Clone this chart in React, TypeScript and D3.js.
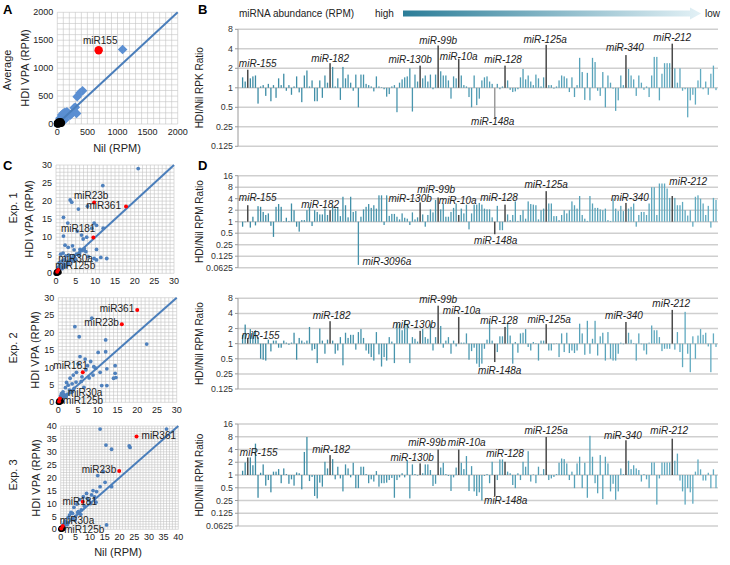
import React from 'react';
import * as d3 from 'd3';

const FONT = '"Liberation Sans", Arial, sans-serif';

// ---------------- bar panels (B, D) ----------------
const N = 185;
const barNames = ['miR-155', 'miR-182', 'miR-130b', 'miR-99b', 'miR-10a', 'miR-148a', 'miR-128', 'miR-125a', 'miR-340', 'miR-212'];
const barIdx = [2, 34, 69, 76, 84, 98, 102, 118, 149, 167];

const ratioB = [
  1.45, 1.25, 1.9, 1.4, 1.5, 1.55, 0.57, 1.05, 1.1, 0.75,
  1.15, 0.62, 1.1, 0.7, 1.4, 1.1, 1.65, 0.9, 1.1, 0.78,
  1.05, 1.5, 0.85, 0.6, 1.55, 1.85, 1.05, 1.3, 0.62, 0.62,
  1.3, 0.7, 1.55, 1.2, 2.4, 2.1, 1.05, 1.4, 0.65, 2.1,
  1.4, 1.6, 1.2, 0.9, 1.6, 0.5, 1.6, 1.6, 1.15, 1.1,
  1.05, 0.88, 1.5, 1.05, 1.02, 0.95, 0.73, 0.8, 1.05, 1.1,
  0.42, 1.2, 1.35, 1.45, 1.5, 2.0, 0.43, 1.6, 1.25, 2.2,
  1.4, 1.55, 1.25, 1.6, 0.95, 1.6, 4.5, 1.8, 1.55, 1.55,
  1.3, 0.68, 1.5, 1.4, 2.8, 1.55, 1.1, 1.05, 0.72, 0.5,
  1.55, 0.54, 0.68, 1.3, 1.45, 1.5, 1.25, 1.15, 0.33, 1.15,
  0.95, 1.05, 2.2, 1.3, 0.93, 0.86, 0.88, 0.95, 1.45, 1.95,
  1.35, 1.55, 1.25, 1.1, 1.6, 1.4, 1.05, 1.45, 4.6, 1.1,
  1.1, 0.97, 1.05, 1.3, 1.55, 1.5, 1.4, 0.86, 1.45, 0.72,
  1.1, 2.9, 1.75, 0.65, 1.7, 0.64, 2.9, 2.5, 0.9, 0.75,
  1.75, 0.5, 1.55, 1.2, 0.97, 0.44, 0.64, 1.55, 1.1, 3.2,
  1.95, 1.55, 1.35, 0.75, 1.55, 1.2, 0.93, 1.05, 0.72, 1.55,
  3.0, 3.0, 0.64, 1.65, 2.4, 2.4, 2.4, 4.8, 2.0, 1.2,
  2.0, 0.9, 0.95, 0.35, 0.64, 0.78, 0.55, 1.3, 1.95, 0.95,
  1.25, 0.78, 1.65, 2.2, 0.92,
];

const ratioD1 = [
  0.74, 0.97, 2.7, 0.7, 1.35, 0.8, 2.55, 2.45, 1.8, 1.5,
  1.65, 0.78, 0.4, 2.45, 2.9, 2.45, 1.03, 1.27, 1.05, 3.0,
  2.0, 0.74, 0.55, 1.1, 1.1, 2.0, 2.4, 0.77, 2.0, 1.8,
  1.55, 1.55, 2.2, 1.5, 2.0, 2.7, 2.2, 2.4, 1.4, 4.5,
  2.7, 1.3, 4.5, 1.8, 1.9, 0.074, 1.35, 2.1, 2.45, 2.9,
  2.3, 2.7, 2.2, 4.9, 4.9, 0.82, 4.9, 1.42, 1.6, 1.6,
  1.35, 1.15, 1.65, 1.27, 1.2, 0.82, 1.75, 1.15, 1.3, 3.2,
  1.55, 0.74, 1.5, 2.1, 1.75, 3.7, 4.3, 2.1, 3.0, 1.35,
  1.35, 1.8, 2.3, 3.0, 1.5, 2.2, 1.65, 2.8, 0.63, 1.65,
  2.8, 2.8, 3.1, 2.8, 2.2, 2.1, 2.1, 1.3, 0.47, 2.6,
  0.6, 0.6, 2.8, 1.55, 1.1, 1.5, 3.4, 1.05, 1.5, 2.0,
  1.2, 3.4, 2.9, 2.8, 2.7, 1.15, 2.0, 2.2, 6.3, 3.0,
  3.0, 1.4, 1.4, 1.1, 1.5, 2.0, 1.65, 2.0, 3.4, 2.7,
  2.2, 4.7, 1.5, 1.2, 1.05, 4.7, 3.0, 2.3, 2.3, 2.1,
  2.0, 2.2, 1.1, 1.05, 4.0, 2.2, 1.9, 2.6, 1.9, 3.1,
  2.2, 2.45, 3.0, 0.74, 1.5, 1.8, 1.8, 1.5, 3.0, 8.0,
  8.0, 1.5, 10, 10, 10, 7.4, 4.2, 4.7, 4.2, 2.7,
  2.7, 3.3, 2.0, 1.45, 2.0, 0.74, 4.5, 4.9, 4.0, 3.0,
  1.5, 2.6, 0.7, 4.2, 3.7,
];

const ratioD2 = [
  1.5, 2.4, 1.3, 1.95, 1.7, 1.85, 1.35, 0.5, 0.48, 0.46,
  1.2, 0.7, 1.15, 1.15, 0.83, 0.83, 1.15, 1.05, 0.95, 1.05,
  1.65, 0.48, 1.3, 1.15, 1.05, 1.15, 2.15, 0.73, 0.78, 0.41,
  2.0, 1.15, 0.63, 1.2, 2.8, 1.15, 0.63, 0.73, 1.35, 0.37,
  1.65, 1.3, 1.5, 1.5, 0.76, 1.7, 1.95, 1.3, 0.73, 0.63,
  0.54, 0.46, 1.7, 0.61, 0.35, 0.54, 0.46, 1.35, 1.1, 0.41,
  2.5, 2.5, 1.85, 2.85, 2.5, 0.41, 1.35, 1.25, 1.1, 1.8,
  1.95, 1.35, 1.25, 2.5, 0.73, 1.35, 5.7, 2.25, 0.83, 1.15,
  1.35, 0.63, 1.15, 0.88, 3.4, 1.05, 1.05, 1.6, 0.48, 0.71,
  0.83, 0.4, 0.34, 0.4, 0.79, 1.2, 2.8, 1.15, 0.43, 0.68,
  1.4, 1.4, 2.15, 2.5, 1.45, 0.4, 1.08, 0.66, 1.6, 1.65,
  1.95, 0.86, 0.73, 1.08, 1.03, 0.46, 1.15, 1.15, 2.45, 0.73,
  0.73, 0.97, 1.02, 0.54, 1.6, 0.68, 1.65, 0.65, 0.73, 0.65,
  0.73, 2.5, 1.6, 0.6, 2.85, 0.63, 1.25, 2.85, 0.58, 1.4,
  1.65, 0.46, 1.7, 0.5, 0.46, 0.46, 0.63, 1.05, 0.97, 2.7,
  1.65, 1.2, 1.03, 0.46, 1.6, 0.97, 0.73, 0.61, 1.05, 2.3,
  1.85, 1.85, 1.35, 0.71, 0.79, 0.79, 0.79, 4.7, 0.76, 1.7,
  0.68, 0.34, 4.3, 0.63, 0.27, 1.4, 0.5, 1.45, 1.95, 1.5,
  1.65, 0.88, 0.27, 1.6, 0.86,
];

const ratioD3 = [
  1.26, 1.98, 2.6, 2.6, 1.7, 5.5, 0.29, 1.13, 1.78, 0.56,
  0.76, 0.39, 1.2, 1.2, 1.38, 0.64, 1.43, 1.05, 0.62, 0.79,
  0.56, 1.15, 1.1, 0.46, 3.5, 7.9, 0.72, 0.9, 0.32, 0.28,
  0.66, 0.53, 2.05, 1.43, 2.95, 2.37, 0.79, 1.57, 0.83, 0.41,
  1.78, 1.43, 0.88, 1.95, 0.49, 0.49, 1.57, 1.57, 1.05, 0.64,
  0.79, 0.7, 1.24, 0.53, 0.64, 0.64, 0.66, 0.76, 0.85, 0.29,
  0.76, 0.88, 1.1, 0.88, 2.25, 0.28, 1.78, 1.05, 0.97, 1.88,
  1.1, 1.78, 1.78, 1.31, 0.55, 0.62, 4.0, 1.5, 1.95, 1.05,
  0.95, 0.42, 0.88, 1.5, 4.0, 1.95, 1.38, 2.8, 0.42, 1.62,
  0.41, 0.32, 0.39, 0.25, 0.95, 1.05, 0.64, 2.05, 0.32, 0.76,
  2.33, 2.33, 2.05, 1.2, 1.1, 0.58, 0.49, 1.1, 0.76, 2.05,
  1.57, 3.65, 0.7, 1.03, 0.64, 1.57, 1.03, 1.38, 7.9, 0.76,
  0.83, 0.9, 1.05, 1.95, 2.45, 2.37, 1.88, 0.76, 1.2, 0.49,
  1.88, 2.7, 0.49, 1.95, 0.29, 8.4, 2.7, 0.64, 0.37, 2.95,
  0.27, 2.7, 1.88, 0.41, 0.62, 0.26, 0.41, 1.43, 1.05, 6.6,
  2.17, 1.38, 1.7, 1.43, 1.31, 0.7, 1.05, 0.79, 0.49, 1.98,
  1.98, 0.2, 0.83, 1.98, 1.98, 1.98, 1.98, 7.2, 2.17, 3.2,
  0.74, 0.41, 0.2, 0.49, 0.39, 0.21, 1.2, 2.33, 1.36, 0.74,
  0.74, 1.13, 0.49, 1.36, 0.49,
];

const ticks8 = [8, 4, 2, 1, 0.5, 0.25, 0.125];
const ticks16 = [16, 8, 4, 2, 1, 0.5, 0.25, 0.125, 0.0625];

// label baseline (in ratio units) and x shift for each highlighted miRNA
const labelYB = [2.08, 2.49, 2.4, 4.78, 2.64, 0.27, 2.43, 4.95, 3.64, 5.37];
const labelDxB = [10, 0, -10, 0, 0, -2, -2, -1, -1, 0];
const labelYD1 = [3.46, 2.31, 3.2, 5.8, 2.83, 0.26, 3.46, 7.4, 3.46, 9.4];
const labelDxD1 = [10, -10, -10, -2, -1, 1, -6, 0, 4, 16];
const labelYD2 = [1.22, 3.07, 2.06, 6.35, 3.87, 0.25, 2.44, 2.52, 3.07, 5.4];
const labelDxD2 = [13, 1.5, -6, 0, 3, 5, -6, 3, -2, -1];
const labelYD3 = [2.84, 3.23, 2.17, 4.79, 4.79, 0.21, 2.6, 9.2, 7.26, 9.2];
const labelDxD3 = [11, 1, -8, -11, 8, 11, 0, 0, -3, -3];

// ---------------- scatter panels (A, C) ----------------
const aDiaX = [1085, 420, 380, 330, 300, 280, 320, 250, 220, 160, 127, 100, 72, 44, 183, 211, 150, 110, 80, 60, 40, 30, 130, 95];
const aDiaY = [1335, 595, 560, 490, 300, 290, 190, 200, 160, 220, 209, 191, 161, 101, 191, 161, 170, 140, 110, 80, 50, 30, 80, 60];
const aBlackX = [0, 5, 10, 20, 30, 40, 50, 60, 15, 25, 8, 35, 70, 45, 12, 3, 55, 20];
const aBlackY = [0, 8, 5, 15, 20, 25, 30, 10, 30, 5, 18, 40, 20, 12, 2, 14, 45, 35];
const aRedX = [687];
const aRedY = [1320];

const c1X = [20.9, 11.9, 3.6, 4.0, 5.7, 8.0, 1.9, 3.0, 9.7, 10.3, 9.1, 12.0, 5.4, 6.5, 7.8, 6.9, 1.9, 2.3, 3.1, 4.2, 4.6, 6.1, 6.9, 7.6, 10.3, 11.4, 12.9, 9.7, 10.3, 8.2, 1.2, 1.8, 2.5, 3.2, 3.8, 4.5, 5.2, 6.0, 6.6, 7.2, 0.8, 1.5, 2.2, 2.9, 3.6, 4.3, 5.0, 0.5, 1.0, 1.4, 2.0, 2.7, 0.3, 0.9, 1.6, 2.4, 3.3, 4.8, 5.8, 7.0];
const c1Y = [29.0, 24.3, 20.3, 19.7, 17.8, 18.6, 15.5, 13.9, 13.9, 13.3, 12.5, 12.5, 11.7, 10.6, 10.0, 9.5, 10.3, 7.8, 7.2, 7.6, 6.5, 6.6, 6.5, 6.0, 6.6, 4.4, 4.1, 4.1, 3.7, 4.6, 5.3, 5.6, 4.8, 5.0, 4.2, 4.9, 5.3, 5.6, 6.3, 6.8, 2.9, 3.4, 3.8, 3.2, 3.7, 3.4, 4.0, 1.6, 2.2, 1.5, 2.6, 2.1, 0.7, 1.0, 1.3, 1.8, 2.6, 3.6, 4.9, 6.4];
const c2X = [8.5, 4.2, 5.3, 12.0, 22.4, 5.5, 6.8, 10.1, 12.0, 8.2, 7.4, 14.4, 14.4, 14.0, 12.3, 10.6, 11.0, 12.3, 14.6, 4.6, 3.8, 3.0, 2.1, 9.0, 7.0, 5.0, 6.0, 3.5, 2.5, 1.8, 1.2, 0.8, 4.5, 5.8, 7.8, 9.5, 1.5, 2.8, 3.2, 4.0, 0.6, 1.0, 2.0, 0.4, 1.4, 2.3, 3.6, 6.5, 8.8];
const c2Y = [24.1, 21.7, 18.8, 17.9, 16.7, 13.1, 12.4, 14.3, 14.5, 11.7, 10.5, 10.5, 8.3, 6.9, 9.6, 8.6, 4.8, 4.8, 7.1, 8.6, 7.8, 6.9, 5.7, 10.2, 9.3, 11.0, 7.3, 5.3, 4.9, 4.2, 3.0, 2.5, 5.8, 6.0, 7.0, 9.8, 2.2, 3.5, 2.8, 4.0, 1.8, 1.3, 1.6, 0.8, 2.0, 2.3, 3.1, 4.3, 7.8];
const c3X = [13.4, 15.4, 17.3, 23.3, 23.6, 36.0, 12.6, 14.5, 13.4, 15.1, 17.3, 12.2, 10.5, 8.8, 7.7, 15.6, 6.5, 5.5, 4.5, 3.5, 9.5, 10.2, 11.5, 6.0, 7.0, 8.0, 2.5, 3.0, 4.0, 5.0, 1.5, 2.0, 1.0, 0.5, 9.0, 11.0, 12.0, 3.8, 4.8, 5.8, 6.8, 2.2, 1.2];
const c3Y = [38.8, 32.6, 31.0, 32.3, 31.7, 38.8, 20.8, 22.3, 16.5, 18.2, 16.5, 14.6, 13.3, 13.9, 12.6, 1.7, 11.5, 9.8, 8.5, 6.5, 11.2, 10.0, 12.5, 6.8, 7.5, 9.0, 4.5, 5.5, 6.2, 5.0, 3.2, 2.5, 2.0, 1.0, 12.0, 15.0, 10.5, 4.0, 3.5, 6.5, 5.8, 1.8, 0.8];
const cBlackX = [0, 0.2, 0.3, 0.5, 0.1, 0.6, 0.8, 0.4];
const cBlackY = [0, 0.1, 0.5, 0.2, 0.4, 0.6, 0.3, 0.0];

const redNames = ['miR23b', 'miR361', 'miR181', 'miR30a', 'miR125b'];
const red1X = [9.7, 17.8, 9.5, 0.6, 0.3];
const red1Y = [19.6, 18.5, 9.9, 1.0, 0.4];
const red2X = [16.1, 20.0, 6.2, 0.4, 0.2];
const red2Y = [22.4, 26.5, 8.6, 1.1, 0.2];
const red3X = [19.9, 25.8, 7.5, 0.7, 0.2];
const red3Y = [22.6, 35.9, 10.7, 1.3, 0.3];

// label placement for red points: [anchor, dx, dy]
const redLab1: [string, number, number][] = [['middle', -3, -4], ['end', -5, 2], ['end', 2, -6], ['start', 0, -8], ['start', -2, -3]];
const redLab2: [string, number, number][] = [['end', -3, 2], ['end', -3, 2], ['end', 5, -3], ['start', 8, -2], ['start', 4, 2]];
const redLab3: [string, number, number][] = [['end', -3, 2], ['start', 5, 2], ['middle', -3, 3], ['start', -3, -2], ['start', 3, 4]];

const BAR_L = 238;
const BAR_R = 718;
const BAR_X0 = 242.6;
const BAR_X1 = 716;

function BarPanel(props: {
  values: number[]; top: number; bottom: number; min: number; max: number; ticks: number[];
  labY: number[]; labDx: number[]; title: string; lightIdx?: number; extra?: boolean;
}) {
  const { values, top, bottom, min, max, ticks, labY, labDx, title, lightIdx, extra } = props;
  const x = d3.scaleLinear().domain([0, N - 1]).range([BAR_X0, BAR_X1]);
  const y = d3.scaleLog().base(2).domain([min, max]).range([bottom, top]);
  const col = d3.scaleLinear<string>().domain([0, N - 1]).range(['#3b8aa3', '#63acc2']);
  const y1 = y(1);
  const hi = new Set(barIdx);
  return (
    <g>
      {ticks.map((t) => (
        <line key={'g' + t} x1={BAR_L} x2={BAR_R} y1={y(t)} y2={y(t)} stroke="#cfcfcf" strokeWidth={1.5} />
      ))}
      <line x1={BAR_L} x2={BAR_L} y1={y(max)} y2={y(min)} stroke="#9a9a9a" strokeWidth={1} />
      {ticks.map((t) => (
        <line key={'t' + t} x1={BAR_L - 3} x2={BAR_L} y1={y(t)} y2={y(t)} stroke="#9a9a9a" strokeWidth={1} />
      ))}
      {ticks.map((t) => (
        <text key={'l' + t} x={BAR_L - 5} y={y(t)} dy="0.35em" textAnchor="end" fontSize={8.8} fill="#333">
          {String(t)}
        </text>
      ))}
      {values.map((v, i) =>
        hi.has(i) ? null : (
          <rect key={i} x={x(i) - 0.65} width={1.3} y={Math.min(y(v), y1)} height={Math.abs(y(v) - y1)} fill={col(i)} />
        )
      )}
      {barIdx.map((i, k) => (
        <rect key={'h' + i} x={x(i) - 0.75} width={1.5} y={Math.min(y(values[i]), y1)} height={Math.abs(y(values[i]) - y1)}
          fill={lightIdx === k ? '#9b9b9b' : '#4a4a4a'} />
      ))}
      {barNames.map((nm, k) => (
        <text key={nm} x={x(barIdx[k]) + labDx[k]} y={y(labY[k])} textAnchor="middle" fontSize={10} fontStyle="italic" fill="#222">
          {nm}
        </text>
      ))}
      {extra ? (
        <text x={x(45) + 4} y={y(values[45])} fontSize={10} fontStyle="italic" fill="#222">miR-3096a</text>
      ) : null}
      <text transform={`translate(203,${(top + bottom) / 2}) rotate(-90)`} textAnchor="middle" fontSize={10} fill="#222">
        {title}
      </text>
    </g>
  );
}

function Scatter(props: {
  left: number; right: number; top: number; bottom: number; max: number; tickStep: number; grid: number;
  bx: number[]; by: number[]; kx: number[]; ky: number[]; rx: number[]; ry: number[];
  diamonds?: boolean; redLabels?: [string, number, number][]; redText?: string[];
}) {
  const { left, right, top, bottom, max, tickStep, grid, bx, by, kx, ky, rx, ry, diamonds, redLabels, redText } = props;
  const x = d3.scaleLinear().domain([0, max]).range([left, right]);
  const y = d3.scaleLinear().domain([0, max]).range([bottom, top]);
  const gridVals = d3.range(0, max + grid / 2, grid);
  const tickVals = d3.range(0, max + tickStep / 2, tickStep);
  const sq = d3.symbol().type(d3.symbolSquare).size(diamonds ? 46 : 10)() as string;
  return (
    <g>
      {gridVals.map((g) => (
        <line key={'gx' + g} x1={x(g)} x2={x(g)} y1={top} y2={bottom} stroke="#c4c4c4" strokeWidth={0.6} />
      ))}
      {gridVals.map((g) => (
        <line key={'gy' + g} x1={left} x2={right} y1={y(g)} y2={y(g)} stroke="#c4c4c4" strokeWidth={0.6} />
      ))}
      {tickVals.map((t) => (
        <text key={'yt' + t} x={left - 4} y={y(t)} dy="0.35em" textAnchor="end" fontSize={9} fill="#222">{t}</text>
      ))}
      {tickVals.map((t) => (
        <text key={'xt' + t} x={x(t)} y={bottom + 11} textAnchor="middle" fontSize={9} fill="#222">{t}</text>
      ))}
      {bx.map((v, i) =>
        diamonds ? (
          <path key={'b' + i} d={sq} transform={`translate(${x(v)},${y(by[i])}) rotate(45)`} fill="#5b8fd2" />
        ) : (
          <circle key={'b' + i} cx={x(v)} cy={y(by[i])} r={1.9} fill="#4f81bd" />
        )
      )}
      <line x1={x(0)} y1={y(0)} x2={x(max)} y2={y(max)} stroke="#4a7ebb" strokeWidth={2} />
      {kx.map((v, i) => (
        <circle key={'k' + i} cx={x(v)} cy={y(ky[i])} r={diamonds ? 3.6 : 2.6} fill="#000" />
      ))}
      {rx.map((v, i) => (
        <circle key={'r' + i} cx={x(v)} cy={y(ry[i])} r={diamonds ? 4.2 : 2} fill="#ff0000" />
      ))}
      {redText && redLabels
        ? redText.map((nm, i) => (
            <text key={nm} x={x(rx[i]) + redLabels[i][1]} y={y(ry[i]) + redLabels[i][2]} textAnchor={redLabels[i][0] as any}
              fontSize={10} fill="#222">
              {nm}
            </text>
          ))
        : null}
    </g>
  );
}

export default function App() {
  const vtext = (x: number, y: number, s: string, size = 11) => (
    <text transform={`translate(${x},${y}) rotate(-90)`} textAnchor="middle" fontSize={size} fill="#222">{s}</text>
  );
  return (
    <svg width={730} height={565} style={{ position: 'absolute', left: 0, top: 0, background: '#fff' }} fontFamily={FONT}>
      <rect width={730} height={565} fill="#fff" />
      {/* Panel A */}
      <text x={3} y={14} fontSize={13} fontWeight="bold">A</text>
      <Scatter left={57.3} right={177.7} top={12.3} bottom={124} max={2000} tickStep={500} grid={100}
        bx={aDiaX} by={aDiaY} kx={aBlackX} ky={aBlackY} rx={aRedX} ry={aRedY} diamonds />
      <text x={83} y={44} fontSize={10} fill="#222">miR155</text>
      {vtext(11, 70, 'Average')}
      {vtext(29, 68, 'HDI VPA (RPM)')}
      <text x={117} y={152} textAnchor="middle" fontSize={11} fill="#222">Nil (RPM)</text>

      {/* Panel C */}
      <text x={3} y={170} fontSize={13} fontWeight="bold">C</text>
      <Scatter left={56} right={174} top={165} bottom={273.3} max={30} tickStep={5} grid={1}
        bx={c1X} by={c1Y} kx={cBlackX} ky={cBlackY} rx={red1X} ry={red1Y} redLabels={redLab1} redText={redNames} />
      {vtext(17, 208, 'Exp. 1')}
      {vtext(33, 219, 'HDI VPA (RPM)')}
      <Scatter left={58.3} right={176.7} top={297.7} bottom={402.3} max={30} tickStep={5} grid={1}
        bx={c2X} by={c2Y} kx={cBlackX} ky={cBlackY} rx={red2X} ry={red2Y} redLabels={redLab2} redText={redNames} />
      {vtext(17, 348, 'Exp. 2')}
      {vtext(39, 350, 'HDI VPA (RPM)')}
      <Scatter left={60.7} right={178.3} top={426} bottom={529.3} max={40} tickStep={5} grid={1}
        bx={c3X} by={c3Y} kx={cBlackX} ky={cBlackY} rx={red3X} ry={red3Y} redLabels={redLab3} redText={redNames} />
      {vtext(17, 475, 'Exp. 3')}
      {vtext(40, 478, 'HDI VPA (RPM)')}
      <text x={118} y={556} textAnchor="middle" fontSize={11} fill="#222">Nil (RPM)</text>

      {/* Panel B header */}
      <text x={198} y={14} fontSize={13} fontWeight="bold">B</text>
      <defs>
        <linearGradient id="abund" x1="0" x2="1" y1="0" y2="0">
          <stop offset="0" stopColor="#2b7d98" />
          <stop offset="1" stopColor="#e3f1f6" />
        </linearGradient>
      </defs>
      <text x={239} y={16.5} fontSize={10} fill="#222">miRNA abundance (RPM)</text>
      <text x={375} y={16.5} fontSize={10} fill="#222">high</text>
      <path d="M403,10.5 L690,10.5 L690,7.5 L701,13.5 L690,19.5 L690,16.5 L403,16.5 Z" fill="url(#abund)" />
      <text x={705} y={16.5} fontSize={10} fill="#222">low</text>

      <BarPanel values={ratioB} top={29.3} bottom={146.3} min={0.125} max={8} ticks={ticks8}
        labY={labelYB} labDx={labelDxB} title="HDI/Nil RPK Ratio" lightIdx={5} />

      {/* Panel D */}
      <text x={198} y={170} fontSize={13} fontWeight="bold">D</text>
      <BarPanel values={ratioD1} top={175.7} bottom={267.7} min={0.0625} max={16} ticks={ticks16}
        labY={labelYD1} labDx={labelDxD1} title="HDI/Nil RPM Ratio" extra />
      <BarPanel values={ratioD2} top={298.3} bottom={389} min={0.125} max={8} ticks={ticks8}
        labY={labelYD2} labDx={labelDxD2} title="HDI/Nil RPM Ratio" />
      <BarPanel values={ratioD3} top={424} bottom={526} min={0.0625} max={16} ticks={ticks16}
        labY={labelYD3} labDx={labelDxD3} title="HDI/Nil RPM Ratio" />
    </svg>
  );
}
